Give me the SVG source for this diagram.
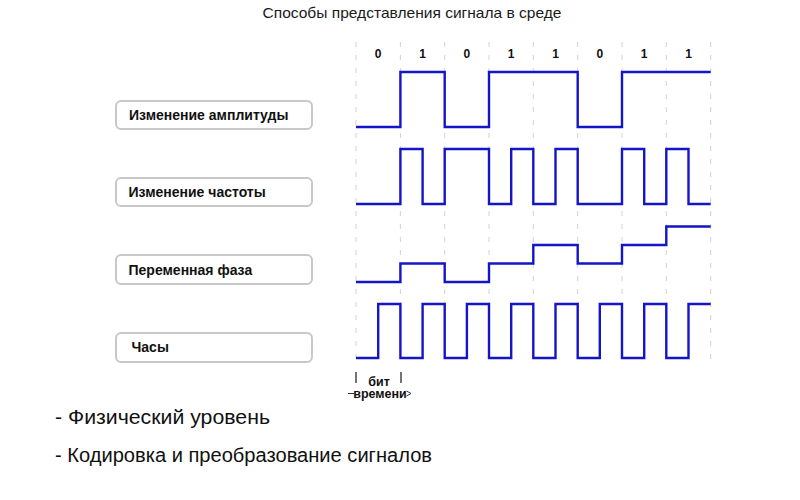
<svg xmlns="http://www.w3.org/2000/svg" width="800" height="500" viewBox="0 0 800 500">
<style>
  text { font-family: "Liberation Sans", Arial, sans-serif; }
  .title { font-size: 15px; fill: #1a1a1a; text-anchor: middle; }
  .bit { font-size: 12px; font-weight: bold; fill: #111; text-anchor: middle; }
  .box { fill: #fff; stroke: #c8c8c8; stroke-width: 2; }
  .lbl { font-size: 14px; font-weight: bold; fill: #111; }
  .grid line { stroke: #d2d2d2; stroke-width: 1; stroke-dasharray: 5 8; }
  .sig { fill: none; stroke: #1414c8; stroke-width: 2.4; stroke-linejoin: miter; }
  .note { font-size: 20px; fill: #111; }
  .small { font-size: 12.5px; font-weight: bold; fill: #111; text-anchor: middle; }
  .tick { stroke: #444; stroke-width: 1.5; }
</style>
<rect width="800" height="500" fill="#fff"/>
<text class="title" x="412" y="18" textLength="299" lengthAdjust="spacingAndGlyphs">Способы представления сигнала в среде</text>

<g class="grid" id="grid">
  <line x1="356" y1="42" x2="356" y2="365"/>
  <line x1="400.4" y1="42" x2="400.4" y2="365"/>
  <line x1="444.7" y1="42" x2="444.7" y2="365"/>
  <line x1="489" y1="42" x2="489" y2="365"/>
  <line x1="533.3" y1="42" x2="533.3" y2="365"/>
  <line x1="577.7" y1="42" x2="577.7" y2="365"/>
  <line x1="622" y1="42" x2="622" y2="365"/>
  <line x1="666.3" y1="42" x2="666.3" y2="365"/>
  <line x1="710.7" y1="42" x2="710.7" y2="365"/>
</g>

<g id="bits">
  <text class="bit" x="378.2" y="58">0</text>
  <text class="bit" x="422.6" y="58">1</text>
  <text class="bit" x="466.9" y="58">0</text>
  <text class="bit" x="511.2" y="58">1</text>
  <text class="bit" x="555.5" y="58">1</text>
  <text class="bit" x="599.8" y="58">0</text>
  <text class="bit" x="644.2" y="58">1</text>
  <text class="bit" x="688.5" y="58">1</text>
</g>

<g id="node-amplitude">
  <rect class="box" x="116" y="101" width="196" height="28" rx="5"/>
  <text class="lbl" x="129" y="120">Изменение амплитуды</text>
</g>
<g id="node-frequency">
  <rect class="box" x="116" y="178" width="196" height="28" rx="5"/>
  <text class="lbl" x="128.5" y="197">Изменение частоты</text>
</g>
<g id="node-phase">
  <rect class="box" x="116" y="255" width="196" height="29" rx="5"/>
  <text class="lbl" x="128.5" y="275">Переменная фаза</text>
</g>
<g id="node-clock">
  <rect class="box" x="116" y="333" width="196" height="29" rx="5"/>
  <text class="lbl" x="131.5" y="352">Часы</text>
</g>

<g id="connectors">
  <path class="sig" d="M356,127 H400.4 V72 H444.7 V127 H489 V72 H577.7 V127 H622 V72 H710.7"/>
  <path class="sig" d="M356,204 H400.4 V149 H422.6 V204 H444.7 V149 H489 V204 H511.2 V149 H533.3 V204 H555.5 V149 H577.7 V204 H622 V149 H644.2 V204 H666.3 V149 H688.5 V204 H710.7"/>
  <path class="sig" d="M356,282 H400.4 V263.5 H444.7 V282 H489 V263.5 H533.3 V245 H577.7 V263.5 H622 V245 H666.3 V226.5 H710.7"/>
  <path class="sig" d="M356,358 H378.2 V304 H400.4 V358 H422.6 V304 H444.7 V358 H466.9 V304 H489 V358 H511.2 V304 H533.3 V358 H555.5 V304 H577.7 V358 H599.8 V304 H622 V358 H644.2 V304 H666.3 V358 H688.5 V304 H710.7"/>
</g>

<g id="bit-time">
  <line class="tick" x1="356" y1="372" x2="356" y2="383"/>
  <line class="tick" x1="401" y1="372" x2="401" y2="383"/>
  <text class="small" x="379" y="385.5">бит</text>
  <text class="small" x="380" y="398">времени</text>
  <line x1="348" y1="393.5" x2="354" y2="393.5" stroke="#333" stroke-width="1"/>
  <path d="M406.5,391 L411,393.5 L406.5,396" fill="none" stroke="#333" stroke-width="1"/>
</g>

<text class="note" x="55" y="424" textLength="215" lengthAdjust="spacingAndGlyphs">- Физический уровень</text>
<text class="note" x="55" y="462" textLength="377" lengthAdjust="spacingAndGlyphs">- Кодировка и преобразование сигналов</text>
</svg>
